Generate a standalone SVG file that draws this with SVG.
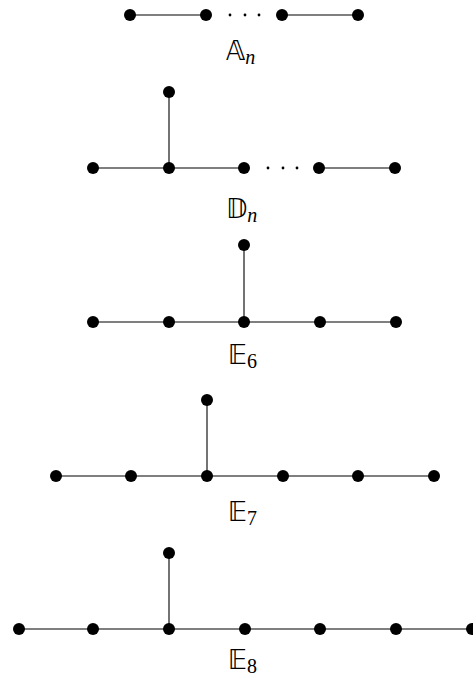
<svg xmlns="http://www.w3.org/2000/svg" width="473" height="682" viewBox="0 0 473 682">
<style>
.e{stroke:#000;stroke-width:1.1;fill:none}
.n{fill:#000}
.d{fill:#000}
.lbl{font-family:"DejaVu Sans",sans-serif;font-size:26px;fill:#000}
.sub{font-family:"Liberation Serif",serif;font-size:20px}
.it{font-style:italic}
</style>
<rect width="473" height="682" fill="#fff"/>
<g id="connectors">
<line class="e" x1="130" y1="15" x2="206" y2="15"/>
<line class="e" x1="282" y1="15" x2="358" y2="15"/>
<line class="e" x1="93" y1="168" x2="244" y2="168"/>
<line class="e" x1="319" y1="168" x2="395" y2="168"/>
<line class="e" x1="169" y1="92" x2="169" y2="168"/>
<line class="e" x1="93" y1="322" x2="396" y2="322"/>
<line class="e" x1="244" y1="245" x2="244" y2="322"/>
<line class="e" x1="56" y1="476" x2="434" y2="476"/>
<line class="e" x1="207" y1="400" x2="207" y2="476"/>
<line class="e" x1="19" y1="629" x2="472" y2="629"/>
<line class="e" x1="169" y1="553" x2="169" y2="629"/>
</g>
<g id="ellipses">
<circle class="d" cx="230" cy="15" r="1.4"/><circle class="d" cx="245" cy="15" r="1.4"/><circle class="d" cx="259" cy="15" r="1.4"/>
<circle class="d" cx="268" cy="168" r="1.4"/><circle class="d" cx="283" cy="168" r="1.4"/><circle class="d" cx="297" cy="168" r="1.4"/>
</g>
<g id="A">
<g id="a1"><circle class="n" cx="130" cy="15" r="6"/></g>
<g id="a2"><circle class="n" cx="206" cy="15" r="6"/></g>
<g id="a3"><circle class="n" cx="282" cy="15" r="6"/></g>
<g id="a4"><circle class="n" cx="358" cy="15" r="6"/></g>
<text class="lbl" x="226" y="60">𝔸<tspan class="sub it" dy="4">n</tspan></text>
</g>
<g id="D">
<g id="d0"><circle class="n" cx="169" cy="92" r="6"/></g>
<g id="d1"><circle class="n" cx="93" cy="168" r="6"/></g>
<g id="d2"><circle class="n" cx="169" cy="168" r="6"/></g>
<g id="d3"><circle class="n" cx="244" cy="168" r="6"/></g>
<g id="d4"><circle class="n" cx="319" cy="168" r="6"/></g>
<g id="d5"><circle class="n" cx="395" cy="168" r="6"/></g>
<text class="lbl" x="226" y="218">𝔻<tspan class="sub it" dy="4">n</tspan></text>
</g>
<g id="E6">
<g id="e6_0"><circle class="n" cx="244" cy="245" r="6"/></g>
<g id="e6_1"><circle class="n" cx="93" cy="322" r="6"/></g>
<g id="e6_2"><circle class="n" cx="169" cy="322" r="6"/></g>
<g id="e6_3"><circle class="n" cx="244" cy="322" r="6"/></g>
<g id="e6_4"><circle class="n" cx="320" cy="322" r="6"/></g>
<g id="e6_5"><circle class="n" cx="396" cy="322" r="6"/></g>
<text class="lbl" x="228" y="364">𝔼<tspan class="sub" dy="4">6</tspan></text>
</g>
<g id="E7">
<g id="e7_0"><circle class="n" cx="207" cy="400" r="6"/></g>
<g id="e7_1"><circle class="n" cx="56" cy="476" r="6"/></g>
<g id="e7_2"><circle class="n" cx="131" cy="476" r="6"/></g>
<g id="e7_3"><circle class="n" cx="207" cy="476" r="6"/></g>
<g id="e7_4"><circle class="n" cx="283" cy="476" r="6"/></g>
<g id="e7_5"><circle class="n" cx="358" cy="476" r="6"/></g>
<g id="e7_6"><circle class="n" cx="434" cy="476" r="6"/></g>
<text class="lbl" x="228" y="521">𝔼<tspan class="sub" dy="4">7</tspan></text>
</g>
<g id="E8">
<g id="e8_0"><circle class="n" cx="169" cy="553" r="6"/></g>
<g id="e8_1"><circle class="n" cx="19" cy="629" r="6"/></g>
<g id="e8_2"><circle class="n" cx="93" cy="629" r="6"/></g>
<g id="e8_3"><circle class="n" cx="169" cy="629" r="6"/></g>
<g id="e8_4"><circle class="n" cx="245" cy="629" r="6"/></g>
<g id="e8_5"><circle class="n" cx="320" cy="629" r="6"/></g>
<g id="e8_6"><circle class="n" cx="396" cy="629" r="6"/></g>
<g id="e8_7"><circle class="n" cx="472" cy="629" r="6"/></g>
<text class="lbl" x="228" y="669">𝔼<tspan class="sub" dy="4">8</tspan></text>
</g>
</svg>
